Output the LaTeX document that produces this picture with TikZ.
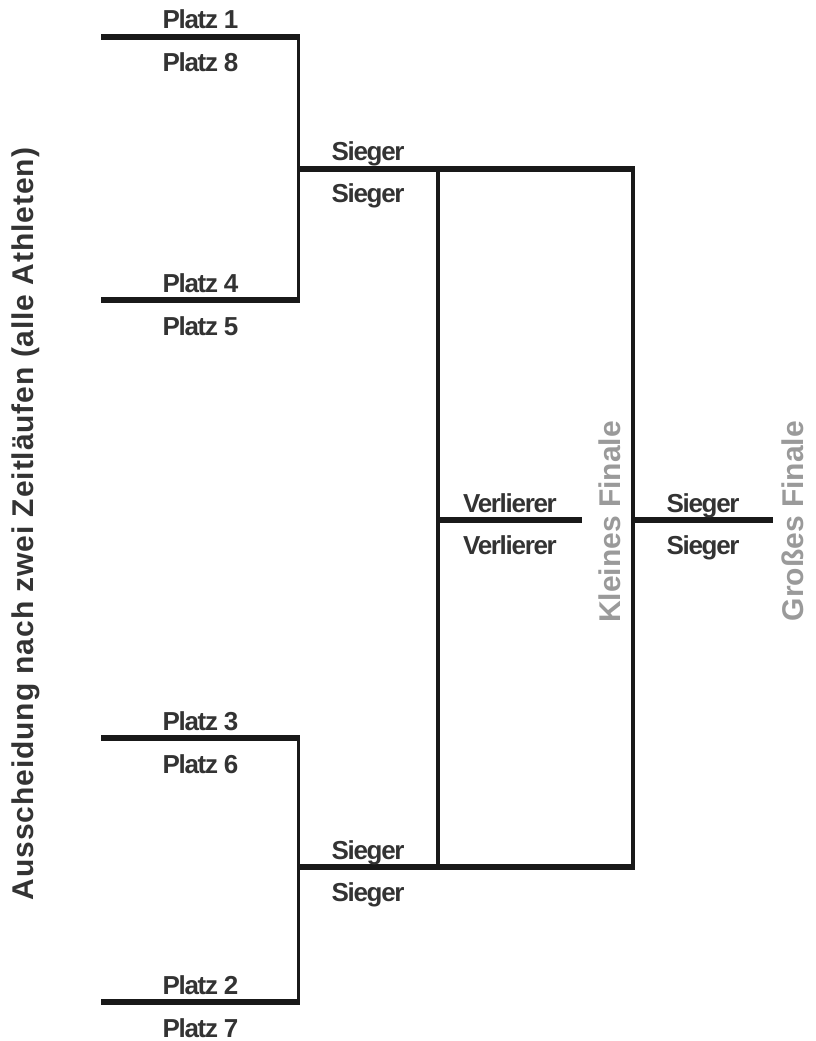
\documentclass[tikz,border=0pt]{standalone}
\usepackage{fontspec}
\setmainfont{Liberation Sans}
\newfontfamily\labelfont[LetterSpace=-5]{Liberation Sans}
\newfontfamily\widefont[LetterSpace=3]{Liberation Sans}
\usetikzlibrary{calc}
\definecolor{textdark}{HTML}{333333}
\definecolor{textgray}{HTML}{9A9A9A}
\tikzset{
	bar/.style={line width=5pt, color=black!90},
	stem/.style={line width=2.6pt, color=black!90},
	lbl/.style={font=\labelfont\fontsize{19.5}{20}\selectfont\bfseries, text=textdark, anchor=base, inner sep=0pt},
	side/.style={font=\fontsize{22.5}{24}\selectfont\bfseries, anchor=base, rotate=90, inner sep=0pt}
}
\begin{document}
\begin{tikzpicture}[x=0.75pt, y=-0.75pt]
		%%%%% START %%%%%
		\useasboundingbox (0, 0) rectangle (815, 1041);
		
		% Ausscheidung
		\coordinate (p1a) at (101, 37);   \coordinate (p1b) at (300, 37);
		\coordinate (p4a) at (101, 300);  \coordinate (p4b) at (300, 300);
		\coordinate (p3a) at (101, 738);  \coordinate (p3b) at (300, 738);
		\coordinate (p2a) at (101, 1002); \coordinate (p2b) at (300, 1002);
		
		% Halbfinale
		\coordinate (hoa) at (298, 169);  \coordinate (hob) at (635, 169);
		\coordinate (hua) at (298, 867);  \coordinate (hub) at (635, 867);
		\coordinate (vlo) at (438, 169);  \coordinate (vlu) at (438, 867);
		\coordinate (vro) at (633, 169);  \coordinate (vru) at (633, 867);
		
		% Finale
		\coordinate (kfa) at (438, 520);  \coordinate (kfb) at (582, 520);
		\coordinate (gfa) at (633, 520);  \coordinate (gfb) at (773, 520);
		
		\draw[stem] (298.5, 37) -- (298.5, 300);
		\draw[stem] (298.5, 738) -- (298.5, 1002);
		\draw[stem] (vlo) -- (vlu);
		\draw[stem] (vro) -- (vru);
		
		\draw[bar] (p1a) -- (p1b);
		\draw[bar] (p4a) -- (p4b);
		\draw[bar] (p3a) -- (p3b);
		\draw[bar] (p2a) -- (p2b);
		\draw[bar] (hoa) -- (hob);
		\draw[bar] (hua) -- (hub);
		\draw[bar] (kfa) -- (kfb);
		\draw[bar] (gfa) -- (gfb);
		
		\node[lbl] (t1) at ($(p1a)!0.5!(p1b)+(0, -8)$) {Platz 1};
		\node[lbl] (t8) at ($(p1a)!0.5!(p1b)+(0, 35)$) {Platz 8};
		\node[lbl] (t4) at ($(p4a)!0.5!(p4b)+(0, -8)$) {Platz 4};
		\node[lbl] (t5) at ($(p4a)!0.5!(p4b)+(0, 35)$) {Platz 5};
		\node[lbl] (t3) at ($(p3a)!0.5!(p3b)+(0, -8)$) {Platz 3};
		\node[lbl] (t6) at ($(p3a)!0.5!(p3b)+(0, 35)$) {Platz 6};
		\node[lbl] (t2) at ($(p2a)!0.5!(p2b)+(0, -8)$) {Platz 2};
		\node[lbl] (t7) at ($(p2a)!0.5!(p2b)+(0, 35)$) {Platz 7};
		
		\node[lbl] (so1) at ($(hoa)!0.5!(vlo)+(0, -8)$) {Sieger};
		\node[lbl] (so2) at ($(hoa)!0.5!(vlo)+(0, 34)$) {Sieger};
		\node[lbl] (su1) at ($(hua)!0.5!(vlu)+(0, -8)$) {Sieger};
		\node[lbl] (su2) at ($(hua)!0.5!(vlu)+(0, 34)$) {Sieger};
		
		\node[lbl] (ve1) at ($(kfa)!0.5!(kfb)+(0, -8)$) {Verlierer};
		\node[lbl] (ve2) at ($(kfa)!0.5!(kfb)+(0, 34)$) {Verlierer};
		\node[lbl] (sf1) at ($(gfa)!0.5!(gfb)+(0, -8)$) {Sieger};
		\node[lbl] (sf2) at ($(gfa)!0.5!(gfb)+(0, 34)$) {Sieger};
		
		\node[side, font=\widefont\fontsize{22.5}{24}\selectfont\bfseries, text=textdark] (aus) at (33, 524) {Ausscheidung nach zwei Zeitläufen (alle Athleten)};
		\node[side, text=textgray] (kf) at (620, 522) {Kleines Finale};
		\node[side, text=textgray] (gf) at (803, 521) {Großes Finale};
		
		%%%%% END %%%%%
	\end{tikzpicture}
\end{document}
